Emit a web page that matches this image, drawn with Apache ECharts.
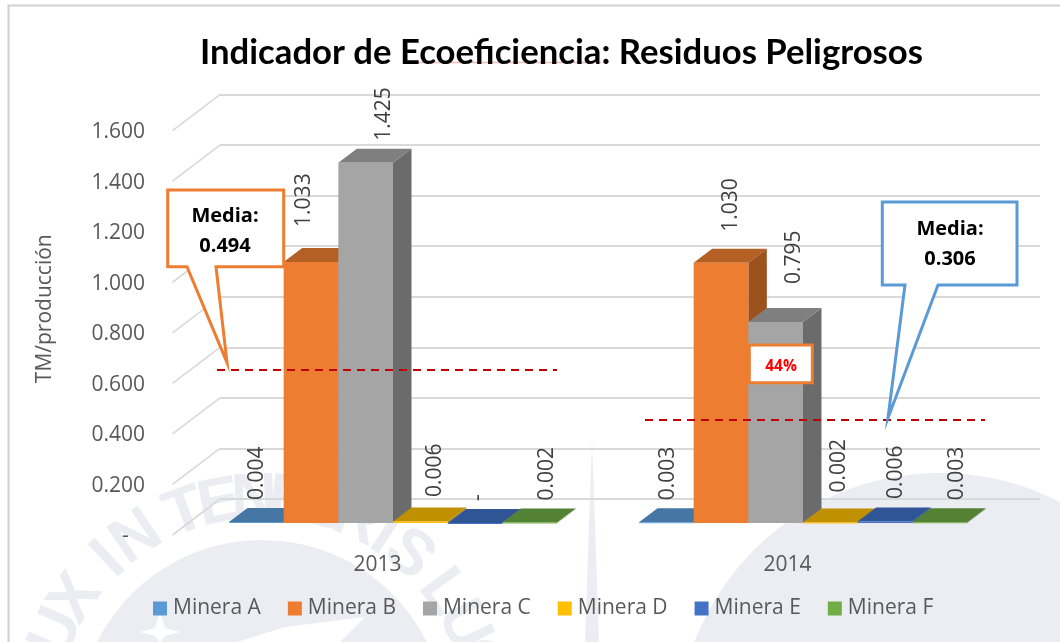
<!DOCTYPE html>
<html><head><meta charset="utf-8">
<style>html,body{margin:0;padding:0;background:#fff}#c{width:1060px;height:642px}</style>
<script src="https://cdn.jsdelivr.net/npm/echarts@6/dist/echarts.min.js"></script>
</head><body><div id="c"></div>
<script>
// ---- data ----
const years = ['2013', '2014'];
const mineraNames = ['Minera A', 'Minera B', 'Minera C', 'Minera D', 'Minera E', 'Minera F'];
const mineraA = [0.004, 0.003];
const mineraB = [1.033, 1.030];
const mineraC = [1.425, 0.795];
const mineraD = [0.006, 0.002];
const mineraE = [0, 0.006];
const mineraF = [0.002, 0.003];
const meanDrawnLevel = [0.5104, 0.3126];
const yTicks = [0, 0.2, 0.4, 0.6, 0.8, 1.0, 1.2, 1.4, 1.6];

// ---- styling ----
const seriesValues = [mineraA, mineraB, mineraC, mineraD, mineraE, mineraF];
const frontColors = ['#5B9BD5', '#ED7D31', '#A5A5A5', '#FFC000', '#4472C4', '#70AD47'];
const topColors = ['#4676A3', '#B45F24', '#7F7F7F', '#BF9000', '#2F5597', '#548235'];
const sideColors = ['#3E6A92', '#9B521D', '#6B6B6B', '#A67D00', '#294B84', '#4A7230'];
// hand placed data labels in the reference: [dx from bar centre, gap above bar top]
const labelNudgeX = [[0.5, 1.5], [-6.5, 10.5], [18.5, 18.5], [15, 8.5], [3.5, 11.5], [17.5, 17.5]];
const labelGap = [[22, 22], [35, 31], [22, 38], [24.5, 30], [22, 22.5], [22, 22]];
const meanSpan = [[-208, 132], [-190, 150]];
const FONT = '"Open Sans", sans-serif';
const TXT = '#595959';
const WM = '#ECEDF2';
const depthBar = [18.5, 14];
const depthWall = [47.5, 36];

function fmt(v) { return v === 0 ? '-' : v.toFixed(3); }

const barSeries = mineraNames.map((name, s) => ({
  name, type: 'custom', xAxisIndex: 0, yAxisIndex: 0, z: 3 + s,
  itemStyle: { color: frontColors[s] },
  encode: { x: 0, y: 1 },
  data: years.map((y, i) => [i, seriesValues[s][i]]),
  renderItem(params, api) {
    const i = api.value(0), v = api.value(1);
    const band = api.size([1, 0])[0];
    const w = band * 0.8 / 6;
    const c = api.coord([i, v]);
    const base = api.coord([i, 0])[1];
    const x0 = c[0] - band * 0.4 + s * w;
    const x1 = x0 + w, yT = c[1];
    const [dx, dy] = depthBar;
    return {
      type: 'group',
      children: [
        { type: 'polygon', shape: { points: [[x1, yT], [x1 + dx, yT - dy], [x1 + dx, base - dy], [x1, base]] }, style: { fill: sideColors[s] } },
        { type: 'polygon', shape: { points: [[x0, yT], [x1, yT], [x1 + dx, yT - dy], [x0 + dx, yT - dy]] }, style: { fill: topColors[s] } },
        { type: 'rect', shape: { x: x0, y: yT, width: w, height: Math.max(base - yT, 1) }, style: { fill: frontColors[s] } },
        { type: 'text', x: x0 + w / 2 + labelNudgeX[s][i], y: yT - labelGap[s][i], rotation: Math.PI / 2, z2: 50,
          style: { text: fmt(v), fontSize: 21, fontFamily: FONT, fill: '#404040', align: 'left', verticalAlign: 'middle' } }
      ]
    };
  }
}));

const diagonalSeries = {
  type: 'custom', xAxisIndex: 1, yAxisIndex: 1, z: 1, silent: true,
  encode: { y: 0 },
  data: yTicks.map(t => [t]),
  renderItem(params, api) {
    const y = api.coord([0, api.value(0)])[1];
    const x = params.coordSys.x;
    return { type: 'line', shape: { x1: x, y1: y, x2: x - depthWall[0], y2: y + depthWall[1] },
      style: { stroke: '#D9D9D9', lineWidth: 1.6 } };
  }
};

const meanSeries = {
  type: 'custom', xAxisIndex: 1, yAxisIndex: 1, z: 20, silent: true,
  encode: { x: 0, y: 1 },
  data: meanDrawnLevel.map((v, i) => [i, v]),
  renderItem(params, api) {
    const c = api.coord([api.value(0), api.value(1)]);
    const sp = meanSpan[api.value(0)];
    return { type: 'line', shape: { x1: c[0] + sp[0], y1: c[1], x2: c[0] + sp[1], y2: c[1] },
      style: { stroke: '#C00000', lineWidth: 2.2, lineDash: [8, 6] } };
  }
};

// ---- watermark & annotations ----
const wmChars = [['L', -76], ['U', -66], ['X', -56], ['I', -43], ['N', -34], ['T', -20], ['E', -11], ['N', -2], ['E', 7], ['B', 16], ['R', 25], ['I', 33], ['S', 41], ['L', 54], ['U', 64], ['C', 74]];
const wmC = [262, 724], wmR = 224;
const graphics = [
  { type: 'circle', z: -1, shape: { cx: wmC[0], cy: wmC[1], r: 184 }, style: { fill: WM } },
  { type: 'circle', z: -1, shape: { cx: 940, cy: 736, r: 263 }, style: { fill: WM } },
  { type: 'polygon', z: -1, shape: { points: [[592, 440], [599, 642], [585, 642]] }, style: { fill: WM } },
  { type: 'polygon', z: -1, shape: { points: [[237, 642], [285, 627], [365, 617], [340, 642]] }, style: { fill: '#fff' } },
  { type: 'polygon', z: -1, shape: { points: [[160, 612], [165, 628], [180, 632], [165, 636], [160, 642], [155, 636], [140, 632], [155, 628]] }, style: { fill: '#fff' } },
  ...wmChars.map(([ch, a]) => {
    const r = a * Math.PI / 180;
    return { type: 'text', z: -1, x: wmC[0] + wmR * Math.sin(r), y: wmC[1] - wmR * Math.cos(r), rotation: -r,
      style: { text: ch, fontSize: 64, fontWeight: 'bold', fontFamily: '"Liberation Sans", sans-serif', fill: WM, align: 'center', verticalAlign: 'middle' } };
  }),
  // frame
  { type: 'polyline', z: 1, shape: { points: [[8.5, 642], [8.5, 5.5], [1060, 5.5]] }, style: { stroke: '#D0D0D0', lineWidth: 2, fill: null } },
  // spell-check underline
  { type: 'line', z: 1, shape: { x1: 403, y1: 62.5, x2: 601, y2: 62.5 }, style: { stroke: '#F2B8B8', lineWidth: 1.5 } },
  // orange callout
  { type: 'polygon', z: 100, shape: { points: [[167.7, 190], [283.7, 190], [283.7, 266.7], [216, 266.7], [227, 362.7], [187, 266.7], [167.7, 266.7]] },
    style: { fill: '#fff', stroke: '#ED7D31', lineWidth: 3 } },
  { type: 'text', z: 101, x: 225, y: 216, style: { text: 'Media:', fontSize: 20, fontWeight: 'bold', fontFamily: FONT, fill: '#000', align: 'center', verticalAlign: 'middle' } },
  { type: 'text', z: 101, x: 225, y: 246, style: { text: '0.494', fontSize: 20, fontWeight: 'bold', fontFamily: FONT, fill: '#000', align: 'center', verticalAlign: 'middle' } },
  // blue callout
  { type: 'polygon', z: 100, shape: { points: [[882.3, 202], [1017, 202], [1017, 285], [938, 285], [888, 418], [905, 285], [882.3, 285]] },
    style: { fill: '#fff', stroke: '#5B9BD5', lineWidth: 3 } },
  { type: 'text', z: 101, x: 950, y: 229, style: { text: 'Media:', fontSize: 20, fontWeight: 'bold', fontFamily: FONT, fill: '#000', align: 'center', verticalAlign: 'middle' } },
  { type: 'text', z: 101, x: 950, y: 259, style: { text: '0.306', fontSize: 20, fontWeight: 'bold', fontFamily: FONT, fill: '#000', align: 'center', verticalAlign: 'middle' } },
  // 44% box
  { type: 'rect', z: 100, shape: { x: 749.3, y: 345, width: 63, height: 37.7 }, style: { fill: '#fff', stroke: '#ED7D31', lineWidth: 3 } },
  { type: 'text', z: 101, x: 781, y: 367, style: { text: '44%', fontSize: 15.5, fontWeight: 'bold', fontFamily: FONT, fill: '#FF0000', align: 'center', verticalAlign: 'middle' } }
];

const PLOT_W = 820, PLOT_H = 404.4;
const chart = echarts.init(document.getElementById('c'), null, { renderer: 'canvas' });
chart.setOption({
  animation: false,
  backgroundColor: '#fff',
  title: {
    text: 'Indicador de Ecoeficiencia: Residuos Peligrosos',
    left: 556.5, top: 30, textAlign: 'center',
    textStyle: { fontFamily: '"Liberation Sans Narrow", Lato, sans-serif', fontWeight: 'bold', fontSize: 34.7, color: '#000' }
  },
  legend: {
    data: mineraNames, left: 148, top: 593, icon: 'rect', itemWidth: 14, itemHeight: 14, itemGap: 27,
    selectedMode: false,
    textStyle: { fontFamily: FONT, fontSize: 21, color: TXT, padding: [0, 0, 0, 1] }
  },
  grid: [
    { left: 188, top: 118.6, width: PLOT_W, height: PLOT_H },     // bar plane
    { left: 220, top: 94.6, width: PLOT_W, height: PLOT_H },      // back wall
    { left: 172.5, top: 132, width: PLOT_W, height: PLOT_H }      // front edge (axis labels)
  ],
  xAxis: [
    { gridIndex: 0, type: 'category', data: years, show: false },
    { gridIndex: 1, type: 'category', data: years, show: false },
    { gridIndex: 2, type: 'category', data: years, axisLine: { show: false }, axisTick: { show: false },
      axisLabel: { margin: 18.5, fontFamily: FONT, fontSize: 21, color: TXT } }
  ],
  yAxis: [
    { gridIndex: 0, type: 'value', min: 0, max: 1.6, interval: 0.2, show: false },
    { gridIndex: 1, type: 'value', min: 0, max: 1.6, interval: 0.2,
      axisLine: { show: false }, axisTick: { show: false }, axisLabel: { show: false },
      splitLine: { lineStyle: { color: '#D9D9D9', width: 2 } } },
    { gridIndex: 2, type: 'value', min: 0, max: 1.6, interval: 0.2,
      axisLine: { show: false }, axisTick: { show: false }, splitLine: { show: false },
      axisLabel: { margin: 27.5, fontFamily: FONT, fontSize: 21, color: TXT,
        formatter: v => v === 0 ? '-   ' : v.toFixed(3) },
      name: 'TM/producción', nameLocation: 'middle', nameRotate: 90, nameGap: 117,
      nameTextStyle: { fontFamily: FONT, fontSize: 21, color: TXT, padding: [0, 0, 0, 51] } }
  ],
  series: [diagonalSeries, ...barSeries, meanSeries],
  graphic: { elements: graphics }
});
</script></body></html>
